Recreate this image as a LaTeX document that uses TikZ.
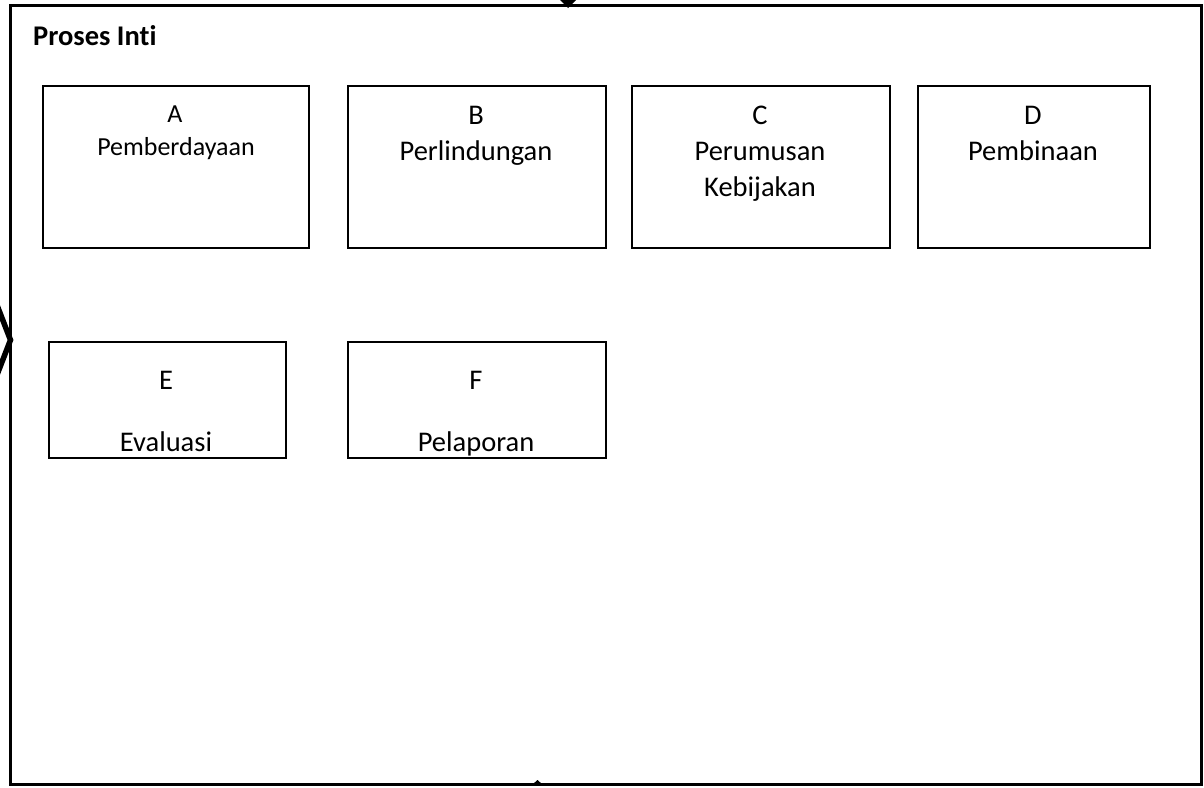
\documentclass[tikz,border=0pt]{standalone}
\usepackage{fontspec}
\setmainfont{Carlito}[Ligatures=NoCommon]
\begin{document}
\begin{tikzpicture}[x=1pt,y=-1pt,
  box/.style={draw=black,line width=1.5pt,fill=white},
  lbl/.style={anchor=base,inner sep=0pt,font=\fontsize{28.5}{34}\selectfont},
  lbls/.style={anchor=base,inner sep=0pt,font=\fontsize{26}{31}\selectfont},
  frame/.style={draw=black,line width=3pt},
  frag/.style={fill=black,draw=none}]
\useasboundingbox (0,0) rectangle (1204,787);
\clip (0,0) rectangle (1204,787);
% outer frame
\draw[frame] (10,5) rectangle (1201,784.5);
% cut-off arrow fragments
\coordinate (topTip) at (568,8);
\fill[frag] (550,-10) -- (586,-10) -- (topTip) -- cycle;
\coordinate (leftTip) at (10.5,340);
\draw[line width=5.5pt] (-5,300) -- (leftTip) -- (-5,380);
\coordinate (botTip) at (537.5,780);
\fill[frag] (533,784) -- (542,784) -- (botTip) -- cycle;
% title
\node[anchor=base west,inner sep=0pt,font=\fontsize{28.5}{34}\selectfont\bfseries] (title) at (33,45) {Proses Inti};
% boxes
\node[box,anchor=north west,minimum width=266pt,minimum height=162pt,inner sep=0pt] (bA) at (42,85) {};
\node[box,anchor=north west,minimum width=258pt,minimum height=162pt,inner sep=0pt] (bB) at (347,85) {};
\node[box,anchor=north west,minimum width=258pt,minimum height=162pt,inner sep=0pt] (bC) at (631,85) {};
\node[box,anchor=north west,minimum width=232pt,minimum height=162pt,inner sep=0pt] (bD) at (917,85) {};
\node[box,anchor=north west,minimum width=237pt,minimum height=116pt,inner sep=0pt] (bE) at (48,341) {};
\node[box,anchor=north west,minimum width=258pt,minimum height=116pt,inner sep=0pt] (bF) at (347,341) {};
% texts
\node[lbls] (tA1) at (175,122) {A};
\node[lbls] (tA2) at (176,155) {Pemberdayaan};
\node[lbl] (tB1) at (476,124) {B};
\node[lbl] (tB2) at (476,160) {Perlindungan};
\node[lbl] (tC1) at (760,124) {C};
\node[lbl] (tC2) at (760,160) {Perumusan};
\node[lbl] (tC3) at (760,196) {Kebijakan};
\node[lbl] (tD1) at (1033,124) {D};
\node[lbl] (tD2) at (1033,160) {Pembinaan};
\node[lbl] (tE1) at (166,389) {E};
\node[lbl] (tE2) at (166,451) {Evaluasi};
\node[lbl] (tF1) at (476,389) {F};
\node[lbl] (tF2) at (476,451) {Pelaporan};
\end{tikzpicture}
\end{document}
